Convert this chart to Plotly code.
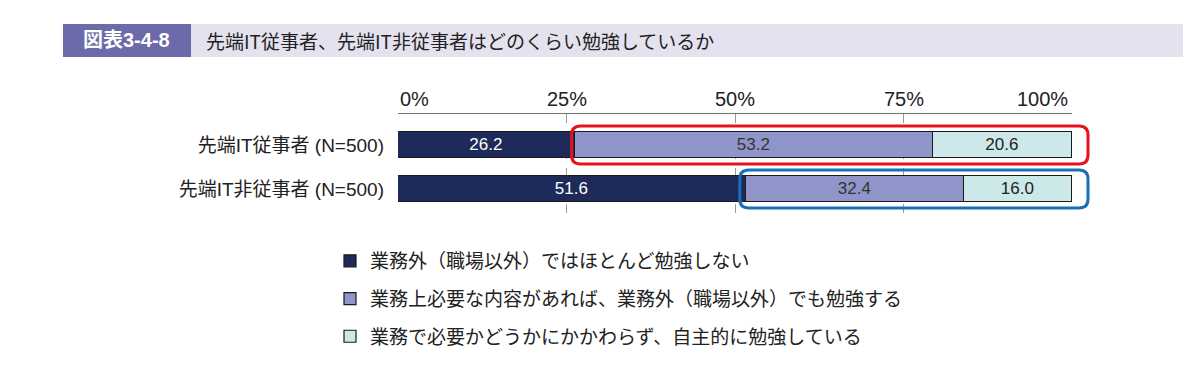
import plotly.graph_objects as go

categories = ["先端IT従事者 (N=500)", "先端IT非従事者 (N=500)"]
series_names = [
    "業務外（職場以外）ではほとんど勉強しない",
    "業務上必要な内容があれば、業務外（職場以外）でも勉強する",
    "業務で必要かどうかにかかわらず、自主的に勉強している",
]
vals_none = [26.2, 51.6]
vals_needed = [53.2, 32.4]
vals_self = [20.6, 16.0]
tick_vals = [0, 25, 50, 75, 100]
tick_text = ["0%", "25%", "50%", "75%", "100%"]

colors = ["#1e2b5a", "#8f95c9", "#cde8e8"]
text_colors = ["#ffffff", "#333333", "#222222"]
FONT = "Noto Sans CJK JP"
MIXED = "Liberation Sans, Noto Sans CJK JP"

W, H = 1200, 375
fig = go.Figure()
for name, vals, c, tc in zip(series_names, [vals_none, vals_needed, vals_self], colors, text_colors):
    fig.add_trace(go.Bar(
        y=categories, x=vals, name=name, orientation="h",
        marker=dict(color=c, line=dict(color="#1a1a1a", width=1.2)),
        text=[f"{v:.1f}" for v in vals], textposition="inside",
        insidetextanchor="middle",
        textfont=dict(color=tc, size=17, family=MIXED),
        width=0.59, legendgroup=name,
    ))

# layout geometry (pixels)
x_left, x_right = 398, 1072
y_top, y_bot = 114, 217
px_per_unit_x = (x_right - x_left) / 100.0
row_px = 44.0
# y axis range so row 0 centre at 145 px and row 1 at 189 px
r_top = -(145 - y_top) / row_px
r_bot = 1 + (y_bot - 189) / row_px

fig.update_layout(
    width=W, height=H,
    margin=dict(l=0, r=0, t=0, b=0, autoexpand=False),
    paper_bgcolor="white", plot_bgcolor="white",
    barmode="stack", bargap=0,
    uniformtext=dict(mode="show", minsize=17),
    font=dict(family=FONT, color="#222222", size=16),
    xaxis=dict(
        domain=[x_left / W, x_right / W], range=[0, 100], side="top",
        tickvals=tick_vals, showticklabels=False,
        showline=True, linecolor="#777777", linewidth=1,
        showgrid=True, gridcolor="#9a9a9a", griddash="dash", gridwidth=1,
        zeroline=False, ticks="", fixedrange=True,
        automargin=False,
    ),
    yaxis=dict(
        domain=[1 - y_bot / H, 1 - y_top / H], range=[r_bot, r_top],
        tickfont=dict(size=19, color="#222222", family=MIXED), ticks="", showline=False,
        showgrid=False, zeroline=False, ticklabelstandoff=13, fixedrange=True,
        automargin=False,
    ),
    legend=dict(
        x=330 / W, y=1 - 242 / H, xanchor="left", yanchor="top",
        traceorder="grouped", tracegroupgap=10,
        font=dict(size=19, color="#222222", family=FONT),
        bgcolor="rgba(0,0,0,0)",
    ),
    showlegend=True,
)

# percentage tick labels on top axis: first left-aligned, last right-aligned
for i, (tv, tt) in enumerate(zip(tick_vals, tick_text)):
    anchor = "left" if i == 0 else ("right" if i == len(tick_vals) - 1 else "center")
    fig.add_annotation(xref="x", yref="paper", x=tv, y=1 - 99 / H, text=tt,
                       showarrow=False, xanchor=anchor, yanchor="middle",
                       xshift=-2 if anchor == "right" else 0,
                       font=dict(size=20, color="#222222", family=MIXED))

# title band
fig.add_shape(type="rect", xref="paper", yref="paper",
              x0=63 / W, x1=191 / W, y0=1 - 57 / H, y1=1 - 24 / H,
              fillcolor="#6c6aaa", line=dict(width=0), layer="below")
fig.add_shape(type="rect", xref="paper", yref="paper",
              x0=191 / W, x1=1183 / W, y0=1 - 57 / H, y1=1 - 24 / H,
              fillcolor="#e4e2ee", line=dict(width=0), layer="below")
fig.add_annotation(xref="paper", yref="paper", x=126 / W, y=1 - 40.5 / H,
                   text="<b>図表3-4-8</b>", showarrow=False, xanchor="center", yanchor="middle",
                   font=dict(size=20, color="white", family=MIXED))
fig.add_annotation(xref="paper", yref="paper", x=204 / W, y=1 - 40.5 / H,
                   text="先端IT従事者、先端IT非従事者はどのくらい勉強しているか",
                   showarrow=False, xanchor="left", yanchor="middle",
                   font=dict(size=19, color="#222222", family=FONT))


def to_px_x(v):
    return x_left + v * px_per_unit_x


def to_px_y(idx):
    return 145 + idx * row_px


def rounded_rect_paper(px0, px1, py0, py1, r):
    # pixel coords -> paper coords
    def P(x, y):
        return f"{x / W:.5f},{1 - y / H:.5f}"
    return (f"M {P(px0 + r, py0)} L {P(px1 - r, py0)} Q {P(px1, py0)} {P(px1, py0 + r)} "
            f"L {P(px1, py1 - r)} Q {P(px1, py1)} {P(px1 - r, py1)} L {P(px0 + r, py1)} "
            f"Q {P(px0, py1)} {P(px0, py1 - r)} L {P(px0, py0 + r)} Q {P(px0, py0)} {P(px0 + r, py0)} Z")


right_px = to_px_x(100) + 16
# red box around row 0, segments 2-3
fig.add_shape(type="path", xref="paper", yref="paper",
              path=rounded_rect_paper(to_px_x(vals_none[0]) - 3, right_px,
                                      to_px_y(0) - 19, to_px_y(0) + 19, 9),
              line=dict(color="#e3141e", width=3))
# blue box around row 1, segments 2-3
fig.add_shape(type="path", xref="paper", yref="paper",
              path=rounded_rect_paper(to_px_x(vals_none[1]) - 6, right_px,
                                      to_px_y(1) - 19, to_px_y(1) + 19, 9),
              line=dict(color="#1a6fb5", width=3))

fig.write_html("out.html")
